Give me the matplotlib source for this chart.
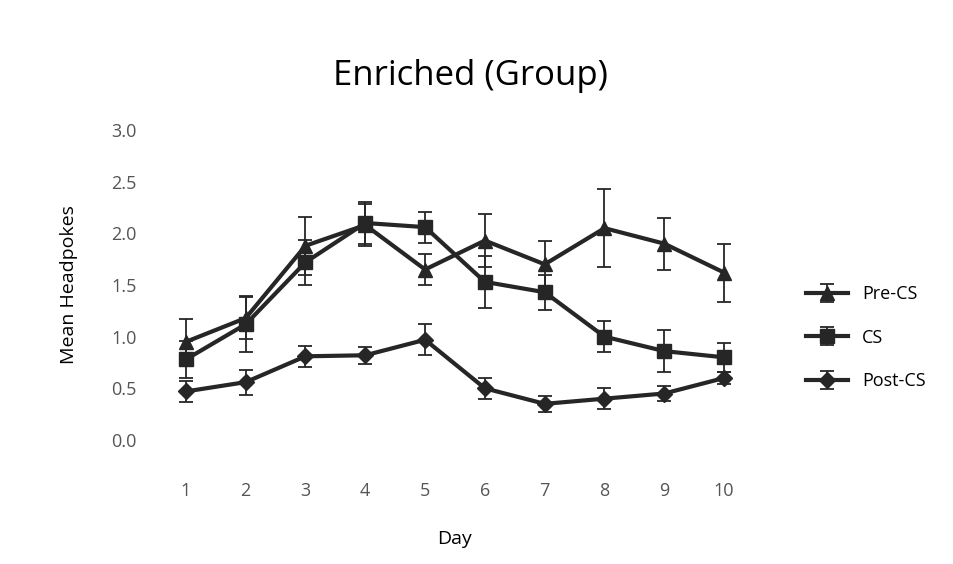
import matplotlib
matplotlib.use("Agg")
import matplotlib.pyplot as plt
import numpy as np

# ------------------------------------------------------------------
# Data
# ------------------------------------------------------------------
days = [1, 2, 3, 4, 5, 6, 7, 8, 9, 10]
pre_cs = [0.95, 1.18, 1.88, 2.08, 1.65, 1.93, 1.70, 2.05, 1.90, 1.62]
pre_cs_err = [0.22, 0.20, 0.28, 0.20, 0.15, 0.26, 0.23, 0.38, 0.25, 0.28]
cs = [0.78, 1.12, 1.72, 2.10, 2.06, 1.53, 1.43, 1.00, 0.86, 0.80]
cs_err = [0.18, 0.27, 0.22, 0.20, 0.15, 0.25, 0.17, 0.15, 0.20, 0.14]
post_cs = [0.47, 0.56, 0.81, 0.82, 0.97, 0.50, 0.35, 0.40, 0.45, 0.60]
post_cs_err = [0.10, 0.12, 0.10, 0.08, 0.15, 0.10, 0.08, 0.10, 0.07, 0.06]

COLOR = "#262626"
plt.rcParams["font.family"] = ["Open Sans", "DejaVu Sans"]

fig = plt.figure(figsize=(9.54, 5.64), dpi=100)
ax = fig.add_axes([156 / 954, 1 - 440 / 564, (754 - 156) / 954, (440 - 130) / 564])

series = [
    ("Pre-CS", pre_cs, pre_cs_err, "^"),
    ("CS", cs, cs_err, "s"),
    ("Post-CS", post_cs, post_cs_err, "D"),
]
for label, vals, err, mk in series:
    ax.errorbar(days, vals, yerr=err, color=COLOR, lw=3, marker=mk,
                markersize=10 if mk != "D" else 8, capsize=5, elinewidth=1.3,
                capthick=1.3, label=label)

ax.set_xlim(0.5, 10.5)
ax.set_ylim(0, 3.0)
ax.set_xticks(days)
ax.set_yticks(np.arange(0, 3.01, 0.5))
ax.set_yticklabels([f"{v:.1f}" for v in np.arange(0, 3.01, 0.5)])
ax.tick_params(axis="both", length=0, labelsize=13, colors="#555555")
ax.tick_params(axis="x", pad=30)
ax.tick_params(axis="y", pad=14)
for s in ax.spines.values():
    s.set_visible(False)

ax.set_ylabel("Mean Headpokes", fontsize=14, labelpad=24)
ax.set_xlabel("Day", fontsize=14, labelpad=22)
fig.text(0.493, 0.866, "Enriched (Group)", ha="center", va="center", fontsize=25)

ax.legend(loc="center left", bbox_to_anchor=(1.06, 0.33), frameon=False,
          fontsize=13, labelspacing=1.4, handlelength=2.3)

plt.savefig("out.png", dpi=100)
plt.close()
